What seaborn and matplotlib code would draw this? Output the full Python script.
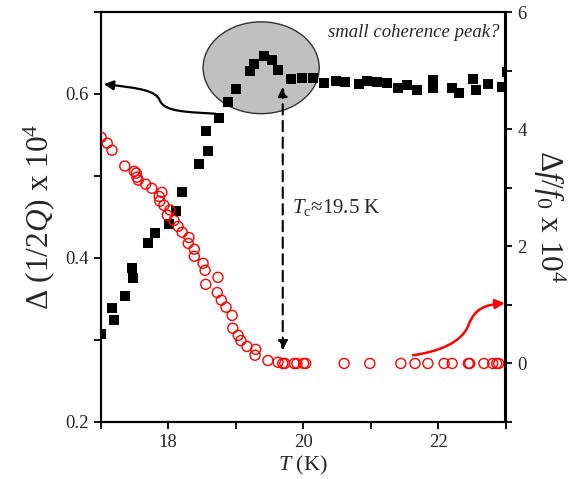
import numpy as np
import pandas as pd
import matplotlib
matplotlib.use("Agg")
import matplotlib.pyplot as plt
import seaborn as sns
from matplotlib.patches import Ellipse, FancyArrowPatch
from matplotlib.path import Path
from matplotlib.ticker import MultipleLocator

# dissipation, left axis: Delta(1/2Q) x 10^4
t_loss = [17.01, 17.17, 17.20, 17.36, 17.47, 17.48, 17.70, 17.81, 18.01, 18.12,
          18.21, 18.46, 18.59, 18.56, 18.76, 18.89, 19.01, 19.21, 19.27, 19.42,
          19.54, 19.63, 19.82, 19.99, 20.15, 20.31, 20.49, 20.62, 20.83, 20.95,
          21.10, 21.24, 21.41, 21.54, 21.69, 21.93, 21.93, 22.21, 22.31, 22.52,
          22.56, 22.74, 22.95, 23.02]
loss = [0.307, 0.339, 0.324, 0.354, 0.388, 0.376, 0.418, 0.431, 0.441, 0.457,
        0.481, 0.515, 0.531, 0.555, 0.571, 0.590, 0.606, 0.628, 0.636, 0.646,
        0.641, 0.629, 0.618, 0.619, 0.619, 0.613, 0.616, 0.615, 0.612, 0.616,
        0.615, 0.613, 0.607, 0.611, 0.605, 0.617, 0.607, 0.607, 0.601, 0.618,
        0.605, 0.612, 0.609, 0.627]

# frequency shift, right axis: Delta f/f0 x 10^4
t_shift = [17.01, 17.10, 17.17, 17.36, 17.50, 17.53, 17.54, 17.56, 17.67, 17.76,
           17.91, 17.87, 17.88, 17.94, 18.03, 17.99, 18.09, 18.15, 18.21, 18.31,
           18.30, 18.39, 18.39, 18.52, 18.55, 18.74, 18.56, 18.73, 18.79, 18.86,
           18.95, 18.96, 19.04, 19.08, 19.17, 19.30, 19.29, 19.48, 19.63, 19.70,
           19.73, 19.87, 19.91, 20.01, 20.04, 20.61, 20.99, 21.45, 21.66, 21.85,
           22.09, 22.21, 22.45, 22.47, 22.68, 22.81, 22.87, 22.90]
shift = [3.86, 3.76, 3.64, 3.37, 3.28, 3.25, 3.18, 3.13, 3.06, 2.99,
         2.92, 2.85, 2.77, 2.70, 2.62, 2.53, 2.44, 2.34, 2.24, 2.15,
         2.05, 1.95, 1.83, 1.71, 1.59, 1.47, 1.35, 1.21, 1.08, 0.96,
         0.82, 0.60, 0.48, 0.39, 0.29, 0.24, 0.14, 0.05, 0.02, 0.0,
         0.0, 0.0, 0.0, 0.0, 0.0, 0.0, 0.0, 0.0, 0.0, 0.0,
         0.0, 0.0, 0.0, 0.0, 0.0, 0.0, 0.0, 0.0]

loss_df = pd.DataFrame({"T": t_loss, "loss": loss})
shift_df = pd.DataFrame({"T": t_shift, "shift": shift})

sns.set_style("ticks")
plt.rcParams["font.family"] = ["Liberation Serif", "DejaVu Serif"]
plt.rcParams["mathtext.fontset"] = "custom"
plt.rcParams["mathtext.rm"] = "Liberation Serif"
plt.rcParams["mathtext.it"] = "Liberation Serif:italic"
plt.rcParams["axes.linewidth"] = 1.5

fig = plt.figure(figsize=(5.84, 4.79), dpi=100)
ax = fig.add_axes([100.5 / 584, 57 / 479, 405 / 584, 410 / 479])
ax2 = ax.twinx()

# grey ellipse behind the peak
ax.add_patch(Ellipse((19.38, 0.632), 1.72, 0.112, facecolor="#c0c0c0",
                     edgecolor="#333333", linewidth=1, zorder=1))

sns.scatterplot(data=loss_df, x="T", y="loss", ax=ax, marker="s", s=44,
                color="black", edgecolor="black", linewidth=0, zorder=3)
sns.scatterplot(data=shift_df, x="T", y="shift", ax=ax2, marker="o", s=52,
                facecolors="none", edgecolor="red", linewidth=1, zorder=3)

ax.set_xlim(17, 23)
ax.set_ylim(0.2, 0.7)
ax2.set_ylim(-1, 6)

ax.xaxis.set_major_locator(MultipleLocator(2))
ax.xaxis.set_minor_locator(MultipleLocator(1))
ax.yaxis.set_major_locator(MultipleLocator(0.2))
ax.yaxis.set_minor_locator(MultipleLocator(0.1))
ax2.yaxis.set_major_locator(MultipleLocator(2))
ax2.yaxis.set_minor_locator(MultipleLocator(1))
ax.xaxis.set_major_formatter(lambda v, p: f"{v:.0f}")
ax.yaxis.set_major_formatter(lambda v, p: f"{v:.1f}")
ax2.yaxis.set_major_formatter(lambda v, p: f"{v:.0f}")

for a in (ax, ax2):
    a.tick_params(which="both", direction="out", width=1.3, labelsize=13.5,
                  color="black", length=5)
    for sp in a.spines.values():
        sp.set_visible(True)
        sp.set_color("black")
        sp.set_linewidth(1.5)

ax.set_xlabel(r"$T$ (K)", fontsize=16, labelpad=2)
ax.set_ylabel(r"$\Delta$ (1/2$Q$) x 10$^4$", fontsize=22.5, labelpad=6)
ax2.set_ylabel(r"$\Delta f/f_0$ x 10$^4$", fontsize=22.5, rotation=270,
               labelpad=29)

# black arrow pointing to the left axis
black_path = Path([(18.70, 0.576), (18.30, 0.578), (17.95, 0.578), (17.88, 0.592),
                   (17.82, 0.604), (17.60, 0.607), (17.05, 0.612)],
                  [Path.MOVETO, Path.CURVE4, Path.CURVE4, Path.CURVE4,
                   Path.CURVE4, Path.CURVE4, Path.CURVE4])
ax.add_patch(FancyArrowPatch(path=black_path, arrowstyle="-|>", mutation_scale=14,
                             color="black", linewidth=1.6, zorder=4))

# red arrow pointing to the right axis
red_path = Path([(21.63, 0.14), (22.00, 0.20), (22.35, 0.35), (22.45, 0.65),
                 (22.55, 0.95), (22.70, 1.00), (22.99, 1.03)],
                [Path.MOVETO, Path.CURVE4, Path.CURVE4, Path.CURVE4,
                 Path.CURVE4, Path.CURVE4, Path.CURVE4])
ax2.add_patch(FancyArrowPatch(path=red_path, arrowstyle="-|>", mutation_scale=14,
                              color="red", linewidth=1.8, zorder=4))

# dashed double arrow at Tc
ax.annotate("", xy=(19.70, 0.6085), xytext=(19.70, 0.2875),
            arrowprops=dict(arrowstyle="<|-|>", linestyle=(0, (5, 3)), color="black",
                            linewidth=1.5, mutation_scale=14, shrinkA=0, shrinkB=0),
            zorder=4)

ax.text(19.84, 0.461, r"$T_{\rm c}$≈19.5 K", fontsize=15, ha="left", va="center")
ax.text(0.985, 0.95, "small coherence peak?", transform=ax.transAxes, fontsize=13.5,
        style="italic", ha="right", va="center")

fig.savefig("out.png", dpi=100)
